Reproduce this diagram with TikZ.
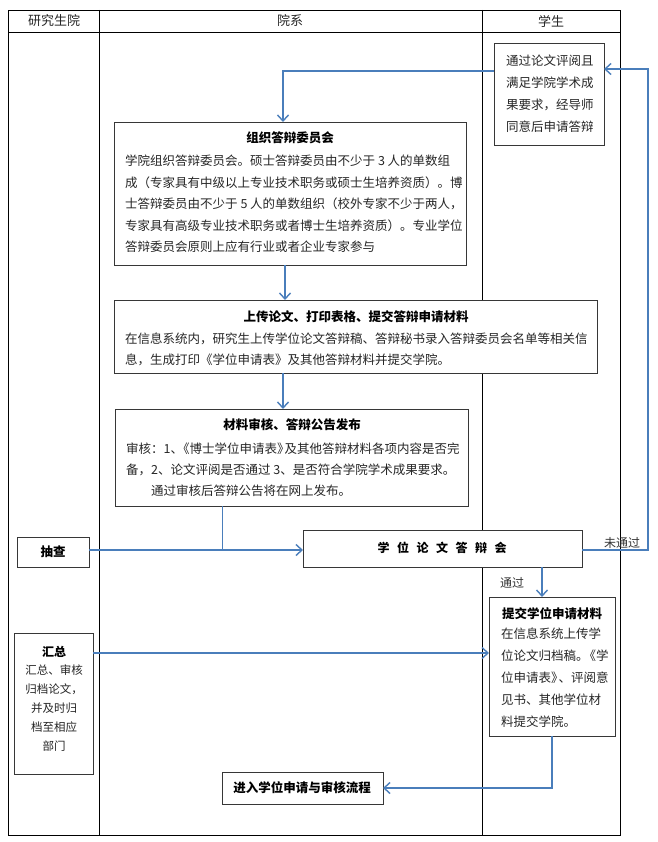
\documentclass[tikz,border=0pt]{standalone}
\usepackage{fontspec}
\newfontfamily\cjk{Noto Sans CJK SC}
\usetikzlibrary{arrows.meta,calc}
\definecolor{lineblue}{RGB}{74,126,187}
\definecolor{boxline}{RGB}{55,55,55}
\newcommand\gapx{\hspace*{7.5pt}}
\begin{document}
\begin{tikzpicture}[x=1pt,y=-1pt,
  box/.style={draw=boxline,line width=0.9pt,fill=white,inner sep=0pt,outer sep=0pt,anchor=north west},
  body/.style={inner sep=0pt,align=left,text=black!85,font=\cjk\fontsize{12.5}{21.5}\selectfont},
  ttl/.style={inner sep=0pt,text=black,font=\cjk\bfseries\fontsize{12.5}{15}\selectfont},
  head/.style={inner sep=0pt,text=black!85,font=\cjk\fontsize{13}{15}\selectfont},
  lbl/.style={inner sep=0pt,text=black!80,font=\cjk\fontsize{12}{14}\selectfont},
  conn/.style={draw=lineblue,line width=1.4pt},
  arr/.style={conn,-{Straight Barb[length=6pt,width=11pt]}},
  thinconn/.style={draw=lineblue,line width=0.9pt},
  gridline/.style={draw=black,line width=0.9pt}]
\useasboundingbox[fill=white] (0,0) rectangle (657,842);
% table
\draw[gridline] (8,10) rectangle (620,835);
\draw[gridline] (8,32) -- (620,32);
\draw[gridline] (99,10) -- (99,835);
\draw[gridline] (482,10) -- (482,835);
\node[head] (h1) at (54,21) {研究生院};
\node[head] (h2) at (290,21) {院系};
\node[head] (h3) at (551,21) {学生};
% boxes
\node[box,minimum width=110pt,minimum height=102pt] (b1) at (494,43) {};
\node[box,minimum width=352pt,minimum height=143pt] (b2) at (114,122) {};
\node[box,minimum width=483pt,minimum height=73pt] (b3) at (114,300) {};
\node[box,minimum width=353pt,minimum height=97pt] (b4) at (115,409) {};
\node[box,minimum width=72pt,minimum height=30pt] (b5) at (17,537) {};
\node[box,minimum width=279pt,minimum height=37pt] (b6) at (303,530) {};
\node[box,minimum width=126pt,minimum height=139pt] (b7) at (489,597) {};
\node[box,minimum width=79pt,minimum height=141pt] (b8) at (14,633) {};
\node[box,minimum width=161pt,minimum height=32pt] (b9) at (222,772) {};
% texts
\node[body,anchor=north west,font=\cjk\fontsize{12.5}{21.8}\selectfont] (t1) at (506,55) {通过论文评阅且\\满足学院学术成\\果要求，经导师\\同意后申请答辩};
\node[ttl] (t2a) at (290,138) {组织答辩委员会};
\node[body,anchor=north west] (t2) at (125,155) {学院组织答辩委员会。硕士答辩委员由不少于 3 人的单数组\\成（专家具有中级以上专业技术职务或硕士生培养资质）。博\\士答辩委员由不少于 5 人的单数组织（校外专家不少于两人，\\专家具有高级专业技术职务或者博士生培养资质）。专业学位\\答辩委员会原则上应有行业或者企业专家参与};
\node[ttl] (t3a) at (356,317) {上传论文、打印表格、提交答辩申请材料};
\node[body,anchor=north west,font=\cjk\fontsize{12.5}{21}\selectfont] (t3) at (125,333) {在信息系统内，研究生上传学位论文答辩稿、答辩秘书录入答辩委员会名单等相关信\\息，生成打印《学位申请表》及其他答辩材料并提交学院。};
\node[ttl] (t4a) at (292,425) {材料审核、答辩公告发布};
\node[body,anchor=north west,font=\cjk\fontsize{12.5}{21}\selectfont] (t4) at (126,443) {审核：1、\kern-6pt《博士学位申请表》\kern-5pt 及其他答辩材料各项内容是否完\\备，2、论文评阅是否通过 3、是否符合学院学术成果要求。\\\hspace*{25pt}通过审核后答辩公告将在网上发布。};
\node[ttl] (t5) at (53,552) {抽查};
\node[ttl,font=\cjk\bfseries\fontsize{12}{14}\selectfont] (t6) at (442,548) {学\gapx 位\gapx 论\gapx 文\gapx 答\gapx 辩\gapx 会};
\node[ttl] (t7a) at (552,614) {提交学位申请材料};
\node[body,anchor=north west,font=\cjk\fontsize{12.5}{22}\selectfont] (t7) at (501,628) {在信息系统上传学\\位论文归档稿。\kern-5pt《学\\位申请表》\kern-5pt 、评阅意\\见书、其他学位材\\料提交学院。};
\node[ttl,font=\cjk\bfseries\fontsize{12}{14}\selectfont] (t8a) at (54,652) {汇总};
\node[body,anchor=north,align=center,font=\cjk\fontsize{11.5}{18.8}\selectfont] (t8) at (54,665) {汇总、审核\\归档论文，\\并及时归\\档至相应\\部门};
\node[ttl] (t9) at (302,788) {进入学位申请与审核流程};
\node[lbl] (l1) at (622,543) {未通过};
\node[lbl] (l2) at (512,583) {通过};
% connectors
\draw[arr] ($(b1.north west)+(0,28)$) -| ($(b2.north west)+(169,0)$);
\draw[arr] ($(b2.south west)+(171,0)$) -- ($(b3.north west)+(171,0)$);
\draw[arr] ($(b3.south west)+(169,0)$) -- ($(b4.north west)+(168,0)$);
\coordinate (j) at (222,550);
\draw[thinconn] ($(b4.south west)+(107,0)$) -- (j);
\draw[arr] (b5.east |- j) -- (b6.west |- j);
\draw[arr] (b6.east |- j) -| ($(b1.north east)+(44,26)$) -- ($(b1.north east)+(0,26)$);
\draw[arr] ($(b6.south west)+(239,0)$) -- ($(b7.north west)+(53,0)$);
\coordinate (k) at (0,653);
\draw[arr] (b8.east |- k) -- (b7.west |- k);
\draw[arr] ($(b7.south west)+(63,0)$) |- (b9.east);
\end{tikzpicture}
\end{document}
